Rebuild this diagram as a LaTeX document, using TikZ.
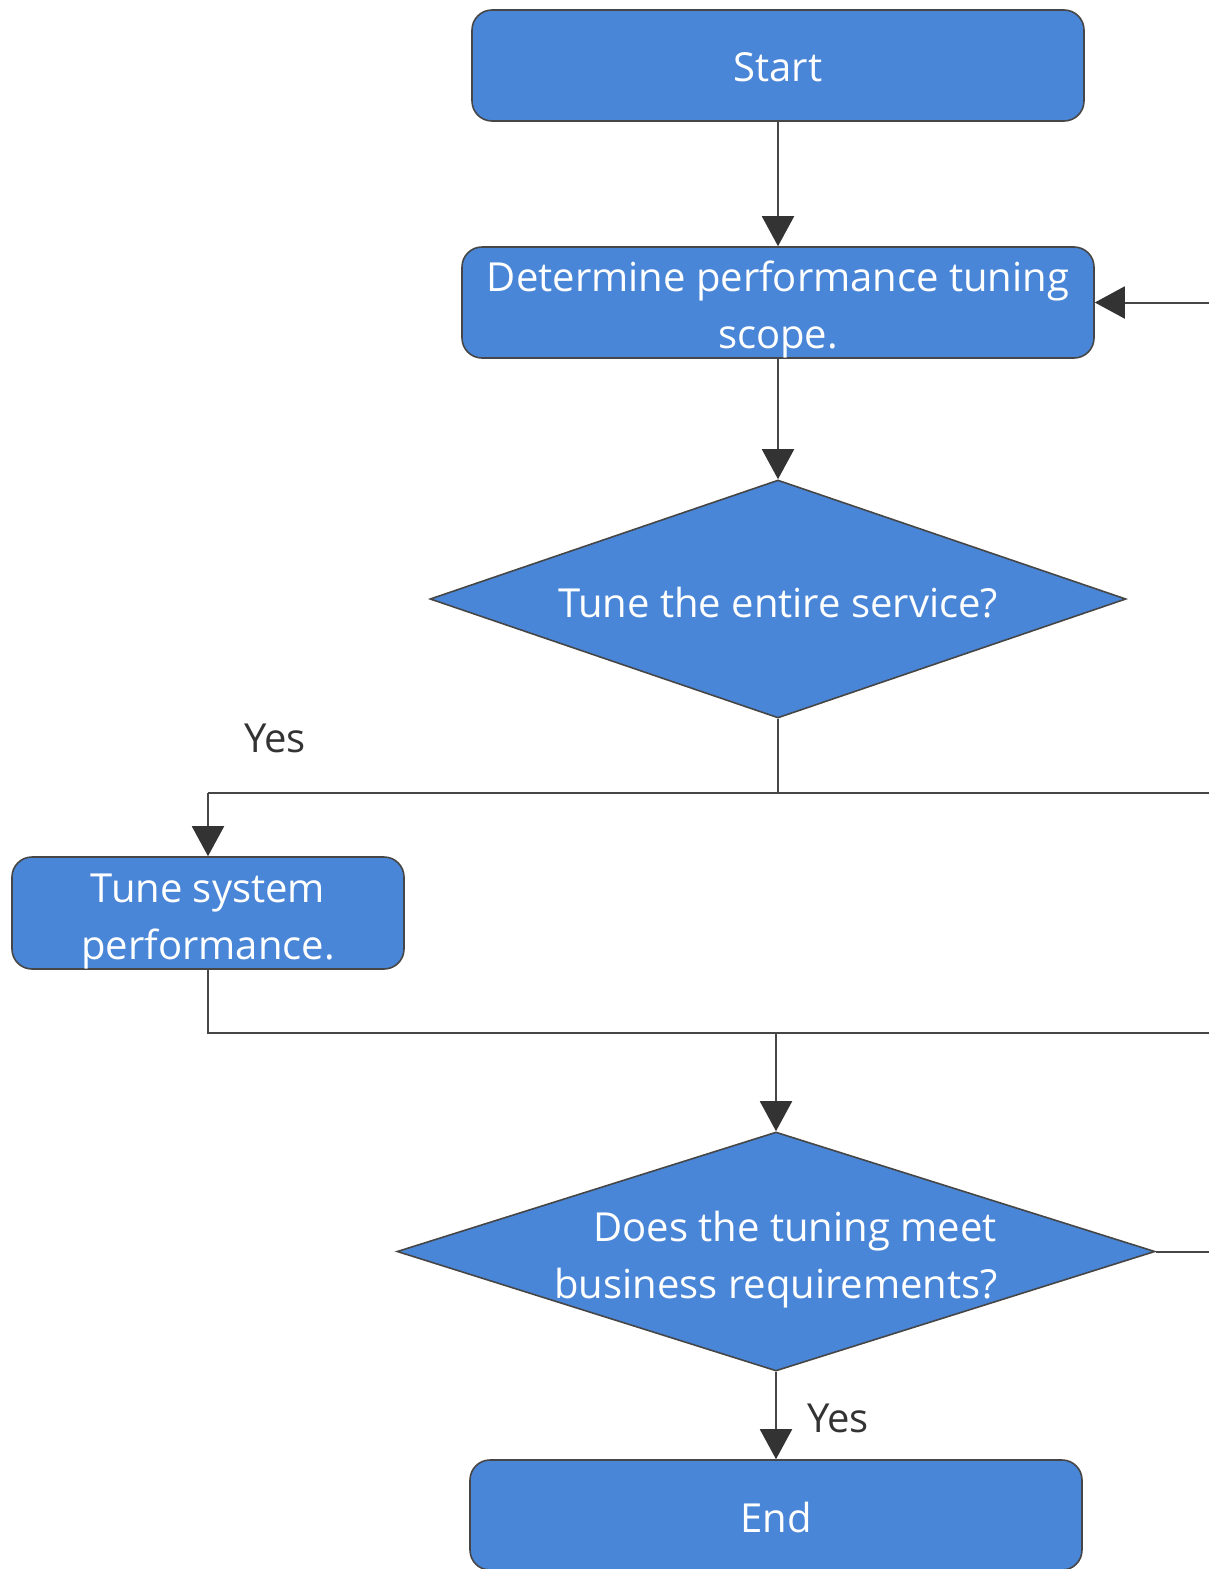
\documentclass[tikz,border=0pt]{standalone}
\usepackage{fontspec}
\setmainfont{Open Sans}
\usetikzlibrary{shapes.geometric,arrows.meta}
\definecolor{boxblue}{RGB}{74,134,216}
\definecolor{edgegray}{RGB}{70,70,70}
\definecolor{tipgray}{RGB}{51,51,51}
\newcommand\mytoppad[1]{\rule{0pt}{#1}}
\begin{document}
\begin{tikzpicture}[x=0.5pt,y=-0.5pt,
  every node/.style={font=\fontsize{20pt}{28.5pt}\selectfont},
  procbox/.style={draw=edgegray,line width=0.8pt,fill=boxblue,rounded corners=10pt,text=white,align=center,inner sep=0pt},
  decbox/.style={draw=edgegray,line width=0.8pt,fill=boxblue,shape=diamond,inner sep=0pt},
  conn/.style={draw=edgegray,line width=1pt},
  arr/.style={conn,-{Triangle[width=16pt,length=15pt,fill=tipgray,color=tipgray]}},
  lbl/.style={text=tipgray}]
\useasboundingbox (0,0) rectangle (1209,1569);
\node[procbox,minimum width=306pt,minimum height=55.5pt] (start) at (778,65.5) {\mytoppad{16.3pt}Start};
\node[procbox,minimum width=316pt,minimum height=55.5pt] (scope) at (778,302.5) {\mytoppad{22pt}Determine performance tuning\\scope.};
\node[decbox,minimum width=348pt,minimum height=119pt,label={[text=white,yshift=-2pt,font=\fontsize{20pt}{28.5pt}\selectfont]center:Tune the entire service?}] (entire) at (778,599) {};
\node[procbox,minimum width=196pt,minimum height=56pt] (sys) at (208,913) {\mytoppad{22.3pt}Tune system\\performance.};
\node[decbox,minimum width=379pt,minimum height=119.5pt,label={[text=white,yshift=-4pt,align=center,font=\fontsize{20pt}{28.5pt}\selectfont]center:\hspace*{19pt}Does the tuning meet\\business requirements?}] (meet) at (776,1251.5) {};
\node[procbox,minimum width=306pt,minimum height=55pt] (end) at (776,1515) {\mytoppad{17.3pt}End};
\coordinate (r1) at (1209,302.5);
\coordinate (j1) at (778,793);
\coordinate (j1l) at (208,793);
\coordinate (r2) at (1209,793);
\coordinate (j2l) at (208,1033);
\coordinate (j2) at (776,1033);
\coordinate (r3) at (1209,1033);
\coordinate (r4) at (1209,1251.5);
\draw[arr] (start) -- (scope);
\draw[arr] (scope) -- (entire.north);
\draw[arr] (r1) -- (scope.east);
\draw[conn] (entire.south) -- (j1);
\draw[conn] (j1l) -- (r2);
\draw[arr] (j1l) -- (sys.north);
\draw[conn] (sys.south) -- (j2l) -- (r3);
\draw[arr] (j2) -- (meet.north);
\draw[conn] (meet.east) -- (r4);
\draw[arr] (meet.south) -- (end.north);
\node[lbl] (yes1) at (275,738) {Yes};
\node[lbl] (yes2) at (838,1418) {Yes};
\end{tikzpicture}
\end{document}
